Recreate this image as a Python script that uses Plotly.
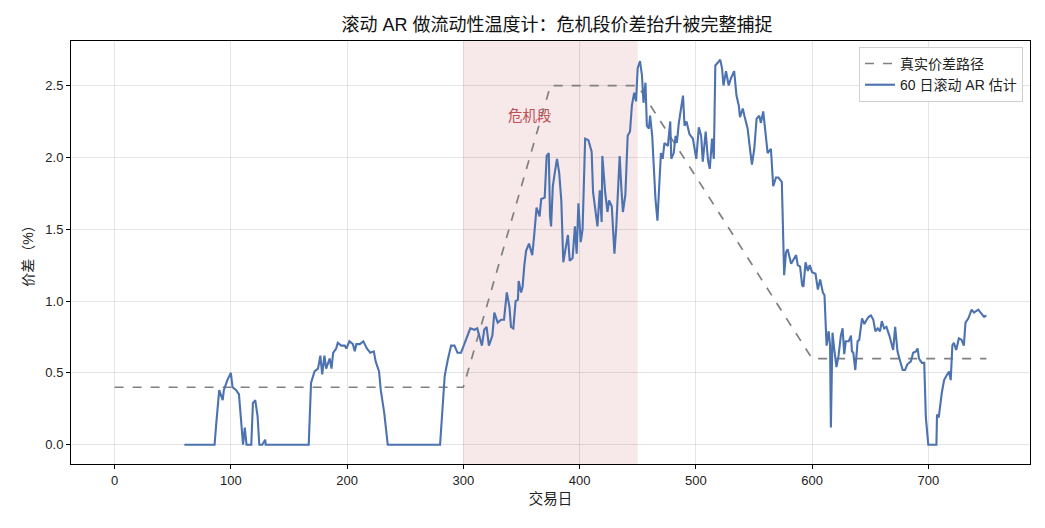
import plotly.graph_objects as go

# True spread path (knots)
true_days = [0, 300, 375, 450, 600, 750]
true_vals = [0.4, 0.4, 2.5, 2.5, 0.6, 0.6]

# 60-day rolling AR estimate
est_days = [60, 86, 87.5, 89, 90, 93, 94, 97, 100, 101.5, 104.6, 107, 109, 110.5, 112, 113.5, 117.6,
            119, 121, 123, 124.5, 127, 129.6, 130, 167, 169, 172, 175, 177, 178.6, 180.5, 182, 185,
            186.6, 188, 190.6, 192, 195, 198, 199.4, 202, 205, 206.6, 208, 211, 214, 217, 220, 223,
            224.6, 227.5, 229, 232, 235, 280, 282.6, 284, 286.6, 289.5, 292.4, 295, 298, 302, 306,
            309.6, 312, 316, 318, 320, 322, 325, 326.7, 329.6, 332.5, 335, 337.4, 339.7, 341, 343,
            345, 347, 347.6, 349.7, 351, 352.5, 354, 356.5, 359.3, 361, 363, 365.6, 367, 370, 371.7,
            373.5, 374.6, 375.5, 377, 379, 380.6, 382.5, 384.3, 386, 388, 390, 391.5, 394, 396,
            397.5, 399, 401, 402.6, 404.8, 407.6, 410.4, 411.6, 414, 415.4, 417.4, 419, 419.6, 422,
            424, 425.4, 427.7, 430, 431.6, 433, 434.5, 436, 437.3, 439.4, 441.4, 443.4, 445, 447,
            448.6, 450, 452, 453.7, 455, 456.7, 457.9, 459.6, 460.7, 462.5, 465.3, 467, 468.6, 470,
            471.5, 473, 476, 478, 478.9, 481, 482.6, 483.7, 485.4, 489, 490.3, 492, 494.6, 497.5,
            500.4, 502.6, 504.6, 506, 508.5, 510.5, 512, 514, 515.5, 516.8, 519, 521, 522.6, 523.8,
            526, 528.3, 530.2, 533, 535, 537, 538, 540.4, 541.8, 544.6, 546.6, 548.3, 550.3, 552.3,
            554.6, 556, 558, 560.3, 561.8, 564.6, 566.6, 569, 571, 574, 576, 577.6, 579, 582, 584,
            586.3, 587.7, 589.7, 591.5, 592.6, 594.4, 596.4, 598, 600, 603, 605, 607, 609.3, 610.7,
            612.5, 614.3, 615.5, 616.2, 617.6, 619, 621, 622.8, 624.8, 626.3, 627.7, 629, 631.5,
            633.5, 634.3, 635.5, 637.2, 639.2, 640.6, 643, 645, 647, 648.7, 650.7, 652.7, 654.5,
            656.5, 658.5, 660, 662, 664, 666.5, 668.6, 669.8, 671.5, 673.5, 675.5, 678, 680, 682,
            685, 687, 689.4, 690.8, 692, 694.5, 696.5, 697.9, 700, 707, 707.5, 709, 711.6, 713.6,
            715.6, 717.9, 719.3, 720.7, 722, 724, 726.3, 728.6, 730.6, 732, 734.5, 737.3, 739.3,
            743, 745, 748, 750]
est_vals = [0, 0, 0.15, 0.27, 0.38, 0.31, 0.38, 0.45, 0.50, 0.40, 0.38, 0.35, 0.13, 0, 0.12, 0, 0,
            0.29, 0.31, 0.20, 0, 0, 0.035, 0, 0, 0.43, 0.51, 0.53, 0.62, 0.49, 0.62, 0.53, 0.60,
            0.53, 0.64, 0.67, 0.71, 0.69, 0.69, 0.67, 0.72, 0.70, 0.65, 0.70, 0.70, 0.72, 0.67, 0.64, 0.65,
            0.58, 0.51, 0.38, 0.22, 0, 0, 0.34, 0.48, 0.59, 0.69, 0.69, 0.64, 0.64, 0.73, 0.81,
            0.80, 0.81, 0.69, 0.80, 0.82, 0.69, 0.76, 0.92, 0.85, 0.87, 0.87, 1.06, 0.96, 0.82, 0.81,
            1.00, 1.01, 1.14, 1.06, 1.10, 1.25, 1.35, 1.40, 1.32, 1.46, 1.65, 1.59, 1.71, 1.72, 2.01,
            2.03, 1.59, 1.52, 1.80, 1.91, 1.99, 1.89, 1.70, 1.27, 1.36, 1.46, 1.28, 1.30, 1.52,
            1.33, 1.68, 1.41, 1.50, 2.13, 2.12, 2.04, 1.76, 1.62, 1.52, 1.77, 1.55, 2.01, 1.76,
            1.62, 1.70, 1.66, 1.33, 1.52, 1.80, 2.01, 1.78, 1.62, 1.74, 2.15, 2.18, 2.36, 2.45,
            2.39, 2.62, 2.67, 2.57, 2.38, 2.52, 2.22, 2.20, 2.29, 2.15, 1.71, 1.56, 1.82, 2.03,
            1.99, 2.10, 2.08, 2.25, 1.99, 2.03, 2.15, 2.10, 2.24, 2.43, 2.22, 2.25, 2.16, 2.13,
            1.99, 2.21, 2.15, 1.97, 2.18, 1.98, 1.92, 2.13, 1.99, 2.64, 2.66, 2.68, 2.62, 2.50,
            2.60, 2.50, 2.55, 2.60, 2.43, 2.36, 2.28, 2.34, 2.29, 2.20, 2.06, 1.95, 2.06, 2.27,
            2.29, 2.24, 2.32, 2.13, 2.03, 2.06, 1.80, 1.86, 1.86, 1.83, 1.18, 1.34, 1.36, 1.26, 1.29,
            1.32, 1.25, 1.24, 1.11, 1.10, 1.27, 1.21, 1.25, 1.20, 1.19, 1.08, 1.15, 1.06, 1.04,
            0.69, 0.79, 0.69, 0.12, 0.78, 0.67, 0.54, 0.62, 0.76, 0.81, 0.63, 0.72, 0.72,
            0.76, 0.65, 0.64, 0.52, 0.72, 0.73, 0.88, 0.84, 0.87, 0.89, 0.90, 0.87, 0.79,
            0.81, 0.79, 0.86, 0.81, 0.82, 0.76, 0.69, 0.66, 0.82, 0.65, 0.59, 0.52, 0.52, 0.56,
            0.58, 0.64, 0.65, 0.67, 0.60, 0.57, 0.57, 0.19, 0.0, 0.0, 0.21, 0.19, 0.36, 0.45,
            0.48, 0.51, 0.45, 0.69, 0.71, 0.66, 0.74, 0.73, 0.69, 0.85, 0.88, 0.94, 0.92,
            0.94, 0.92, 0.89, 0.90]

crisis_start, crisis_end = 300, 450
crisis_label = "危机段"
x_ticks = [0, 100, 200, 300, 400, 500, 600, 700]
y_ticks = [0.0, 0.5, 1.0, 1.5, 2.0, 2.5]

FONT = "Liberation Sans, Noto Sans CJK SC, sans-serif"
BLUE = "#4C72B0"
GRAY = "#808080"
RED = "#C44E52"

fig = go.Figure()
fig.add_trace(go.Scatter(x=true_days, y=true_vals, mode="lines", name="真实价差路径",
                         line=dict(color=GRAY, width=1.7, dash="dash")))
fig.add_trace(go.Scatter(x=est_days, y=est_vals, mode="lines", name="60 日滚动 AR 估计",
                         line=dict(color=BLUE, width=2.1)))

fig.add_vrect(x0=crisis_start, x1=crisis_end, fillcolor="rgba(196,78,82,0.13)",
              line_width=0, layer="below")
fig.add_annotation(x=357.5, y=2.285, text=crisis_label, showarrow=False,
                   font=dict(color=RED, size=14.5, family=FONT))

axis_common = dict(showline=True, linecolor="black", linewidth=1, mirror=True,
                   ticks="outside", ticklen=4, tickcolor="black", tickwidth=1,
                   showgrid=True, gridcolor="rgba(0,0,0,0.1)", gridwidth=1,
                   zeroline=False, tickfont=dict(size=13, color="#222", family=FONT))

fig.update_layout(
    width=1045, height=528,
    margin=dict(l=71, r=15, t=41, b=64),
    paper_bgcolor="white", plot_bgcolor="white",
    font=dict(family=FONT, color="#222"),
    title=dict(text="滚动 AR 做流动性温度计：危机段价差抬升被完整捕捉", x=0.533, xanchor="center",
               y=0.953, yanchor="middle", font=dict(size=18, color="#111", family=FONT)),
    xaxis=dict(range=[-37.5, 787.5], tickvals=x_ticks,
               title=dict(text="交易日", font=dict(size=14.5, family=FONT), standoff=7),
               **axis_common),
    yaxis=dict(range=[-0.134, 2.81], tickvals=y_ticks, tickformat=".1f",
               title=dict(text="价差（%）", font=dict(size=14, family=FONT), standoff=8),
               **axis_common),
    legend=dict(x=0.9927, xanchor="right", y=0.986, yanchor="top",
                bgcolor="rgba(255,255,255,0.85)", bordercolor="#d0d0d0", borderwidth=1,
                font=dict(size=14, family=FONT, color="#222"), tracegroupgap=2),
    showlegend=True,
)

fig.write_html("out.html")
